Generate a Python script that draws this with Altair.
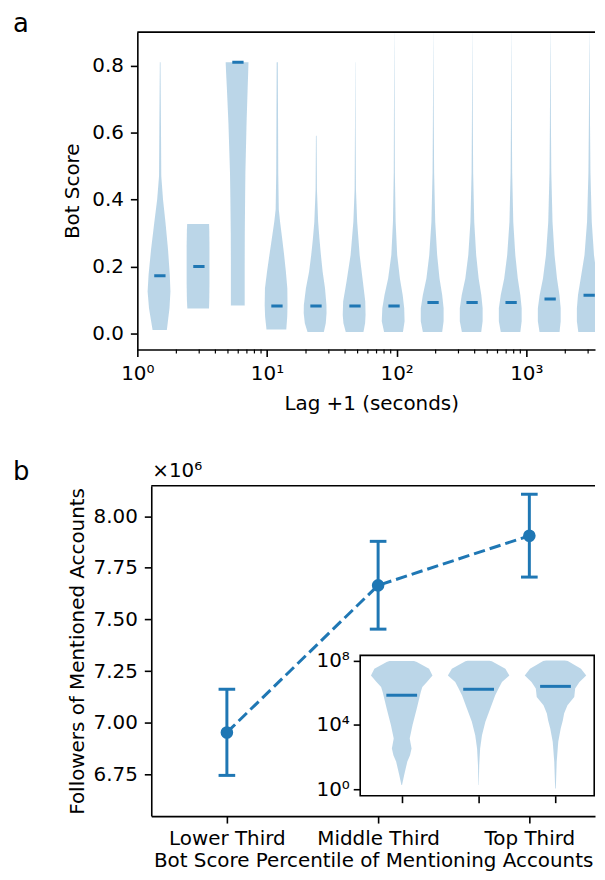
import altair as alt
import pandas as pd

FONT = "DejaVu Sans"
BLUE = "#1f77b4"

# ---------------- panel a : bot score vs lag ----------------
lag_positions = [1.5, 3, 6, 12, 24, 48, 96, 192, 384, 768, 1536, 3072]
lag_medians = [0.172, 0.200, 0.810, 0.082, 0.082, 0.082, 0.082, 0.092, 0.092, 0.092, 0.103, 0.114]

# violin profiles: bot-score levels and relative density (1 = widest point)
v01_y = [0.010, 0.075, 0.125, 0.175, 0.250, 0.330, 0.400, 0.470, 0.630, 0.810]
v01_d = [0.63, 0.90, 1.00, 0.93, 0.75, 0.50, 0.26, 0.10, 0.07, 0.03]
v02_y = [0.074, 0.100, 0.150, 0.200, 0.260, 0.310, 0.327]
v02_d = [0.95, 0.98, 1.00, 1.00, 1.00, 0.98, 0.96]
v03_y = [0.083, 0.200, 0.300, 0.400, 0.480, 0.630, 0.730, 0.780, 0.810]
v03_d = [0.61, 0.61, 0.62, 0.65, 0.68, 0.80, 0.91, 0.97, 1.00]
v04_y = [0.012, 0.050, 0.085, 0.135, 0.184, 0.234, 0.283, 0.333, 0.370, 0.480, 0.650, 0.810]
v04_d = [0.87, 0.97, 1.00, 0.98, 0.83, 0.65, 0.46, 0.26, 0.14, 0.09, 0.07, 0.05]
v05_y = [0.004, 0.030, 0.060, 0.085, 0.135, 0.184, 0.234, 0.283, 0.333, 0.430, 0.590]
v05_d = [0.72, 0.92, 1.00, 0.99, 0.84, 0.60, 0.43, 0.29, 0.17, 0.06, 0.03]
v06_y = [0.004, 0.030, 0.055, 0.095, 0.155, 0.234, 0.333, 0.430, 0.600, 0.810]
v06_d = [0.78, 0.95, 1.00, 0.97, 0.72, 0.40, 0.17, 0.06, 0.03, 0.01]
tail_y = [0.004, 0.036, 0.075, 0.115, 0.164, 0.234, 0.333, 0.480, 0.630, 0.830, 0.897]
v07_d = [0.83, 1.00, 0.96, 0.80, 0.52, 0.26, 0.12, 0.05, 0.035, 0.015, 0.005]
v08_d = [0.85, 1.00, 1.00, 0.85, 0.58, 0.35, 0.17, 0.07, 0.040, 0.015, 0.005]
v09_d = [0.85, 1.00, 1.00, 0.86, 0.59, 0.35, 0.17, 0.07, 0.040, 0.015, 0.005]
v10_d = [0.86, 1.00, 1.00, 0.86, 0.60, 0.36, 0.17, 0.07, 0.040, 0.015, 0.005]
v11_d = [0.88, 1.00, 1.00, 0.87, 0.62, 0.38, 0.19, 0.08, 0.045, 0.020, 0.006]
v12_d = [0.90, 1.00, 1.00, 0.92, 0.72, 0.42, 0.21, 0.09, 0.050, 0.020, 0.006]

lag_profiles = [(v01_y, v01_d), (v02_y, v02_d), (v03_y, v03_d), (v04_y, v04_d),
                (v05_y, v05_d), (v06_y, v06_d), (tail_y, v07_d), (tail_y, v08_d),
                (tail_y, v09_d), (tail_y, v10_d), (tail_y, v11_d), (tail_y, v12_d)]

lag_major_ticks = [1, 10, 100, 1000]
lag_major_labels = ["10⁰", "10¹", "10²", "10³"]
lag_minor_ticks = [2, 3, 4, 5, 6, 7, 8, 9, 20, 30, 40, 50, 60, 70, 80, 90,
                   200, 300, 400, 500, 600, 700, 800, 900, 2000, 3000]
score_ticks = [0.0, 0.2, 0.4, 0.6, 0.8]

# ---------------- panel b : followers vs bot score third ----------------
thirds = ["Lower Third", "Middle Third", "Top Third"]
thirds_pos = [0, 1, 2]
followers_mean = [6.953, 7.665, 7.905]   # x 10^6
followers_lo = [6.745, 7.453, 7.705]
followers_hi = [7.162, 7.878, 8.106]
followers_ticks = [6.75, 7.00, 7.25, 7.50, 7.75, 8.00]

# inset violins (log10 of followers) and relative density
in_low_log = [0.27, 0.89, 1.71, 2.12, 2.54, 3.15, 3.98, 5.01, 6.04, 6.35, 6.66, 7.07, 7.48, 7.90, 7.96]
in_low_d = [0.01, 0.08, 0.18, 0.27, 0.32, 0.26, 0.35, 0.49, 0.62, 0.67, 0.82, 1.00, 0.89, 0.49, 0.40]
in_mid_log = [0.27, 1.51, 2.54, 3.36, 4.19, 5.01, 5.84, 6.25, 6.66, 7.07, 7.48, 7.94, 7.98]
in_mid_d = [0.005, 0.02, 0.05, 0.11, 0.22, 0.38, 0.54, 0.65, 0.76, 1.00, 0.87, 0.43, 0.35]
in_top_log = [0.06, 1.71, 2.95, 3.77, 4.29, 4.70, 5.22, 5.73, 6.25, 6.66, 7.07, 7.48, 7.96, 8.00]
in_top_d = [0.01, 0.04, 0.09, 0.17, 0.24, 0.28, 0.39, 0.61, 0.64, 0.78, 1.00, 0.83, 0.40, 0.30]
in_medians_log = [5.84, 6.21, 6.39]
inset_profiles = [(in_low_log, in_low_d), (in_mid_log, in_mid_d), (in_top_log, in_top_d)]
inset_ticks = [1, 1e4, 1e8]
inset_labels = ["10⁰", "10⁴", "10⁸"]

# ---------------- styling constants ----------------
W = 460
HA = 319
HB = 332
LAG_MAX = 3391   # right edge of the log axis (130.3 px per decade)
HALF_A = 0.2     # violin half width, fraction of lag position
HALF_IN = 0.4    # inset violin half width
CAP = 0.055      # error-bar cap half width
LEFT_EDGE = -128.5
PAD0 = {"left": 0, "top": 0, "right": 0, "bottom": 0}


def label_expr(values, labels):
    expr = ""
    for v, l in zip(values, labels):
        expr += f"datum.value == {v} ? '{l}' : "
    return expr + "''"


# ---------------- tables ----------------
rows = []
for p, (ys, ds) in zip(lag_positions, lag_profiles):
    for y, d in zip(ys, ds):
        rows.append({"pos": p, "y": y, "left": p * (1 - HALF_A * d), "right": p * (1 + HALF_A * d)})
df_a = pd.DataFrame(rows)
df_a_med = pd.DataFrame({"pos": lag_positions, "med": lag_medians})
df_a_med["lo"] = df_a_med["pos"] * (1 - HALF_A / 2)
df_a_med["hi"] = df_a_med["pos"] * (1 + HALF_A / 2)
df_minor = pd.DataFrame({"v": lag_minor_ticks})
one = pd.DataFrame({"k": [0]})

df_b = pd.DataFrame({"pos": thirds_pos, "val": followers_mean, "lo": followers_lo, "hi": followers_hi})
df_caps = pd.DataFrame({"pos": thirds_pos * 2, "cap": followers_lo + followers_hi})
df_caps["c1"] = df_caps["pos"] - CAP
df_caps["c2"] = df_caps["pos"] + CAP

rows = []
for p, (ls, ds) in zip(thirds_pos, inset_profiles):
    for l, d in zip(ls, ds):
        rows.append({"pos": p, "y": 10 ** l, "left": p - HALF_IN * d, "right": p + HALF_IN * d})
df_in = pd.DataFrame(rows)
df_in_med = pd.DataFrame({"pos": thirds_pos, "med": [10 ** m for m in in_medians_log]})
df_in_med["lo"] = df_in_med["pos"] - HALF_IN / 2
df_in_med["hi"] = df_in_med["pos"] + HALF_IN / 2

# ---------------- panel a ----------------
xs_a = alt.Scale(type="log", domain=[1, LAG_MAX])
ys_a = alt.Scale(domain=[-0.048, 0.9])
ax_a_x = alt.Axis(values=lag_major_ticks, labelExpr=label_expr(lag_major_ticks, lag_major_labels),
                  title="Lag +1 (seconds)", titlePadding=10, titleX=235,
                  labelFlush=False, labelOverlap=False)
ax_a_y = alt.Axis(values=score_ticks, format=".1f", title="Bot Score", titlePadding=9,
                  labelOverlap=False)

violins_a = alt.Chart(df_a).mark_area(orient="horizontal", color=BLUE, fillOpacity=0.3, clip=True).encode(
    y=alt.Y("y:Q", scale=ys_a, axis=ax_a_y),
    x=alt.X("left:Q", scale=xs_a, axis=ax_a_x),
    x2="right:Q",
    detail="pos:N",
)
med_a = alt.Chart(df_a_med).mark_rule(color=BLUE, strokeWidth=3, clip=True).encode(
    y=alt.Y("med:Q", scale=ys_a, axis=ax_a_y),
    x=alt.X("lo:Q", scale=xs_a, axis=ax_a_x),
    x2="hi:Q",
)
minor_a = alt.Chart(df_minor).transform_filter(f"datum.v <= {LAG_MAX}").mark_rule(
    color="black", strokeWidth=1.2).encode(
    x=alt.X("v:Q", scale=xs_a, axis=ax_a_x),
    y=alt.value(HA),
    y2=alt.value(HA + 4),
)
top_a = alt.Chart(one).mark_rule(color="black", strokeWidth=1.6).encode(
    x=alt.value(0), x2=alt.value(W), y=alt.value(0))
edge_a = alt.Chart(one).mark_rule(color="white", strokeWidth=1).encode(
    x=alt.value(LEFT_EDGE), x2=alt.value(LEFT_EDGE), y=alt.value(-20.5), y2=alt.value(HA + 69.5))
letter_a = alt.Chart(one).mark_text(text="a", font=FONT, fontSize=26, align="left",
                                    baseline="alphabetic", color="black").encode(
    x=alt.value(-125), y=alt.value(-0.5))

panel_a = alt.layer(violins_a, med_a, minor_a, top_a, edge_a, letter_a).properties(width=W, height=HA)

# ---------------- panel b ----------------
xs_b = alt.Scale(domain=[-0.5, -0.5 + (W - 14) / 152], range=[14, W])
ys_b = alt.Scale(domain=[6.548, 8.147])
ax_b_x = alt.Axis(values=thirds_pos, labelExpr=label_expr(thirds_pos, thirds),
                  title="Bot Score Percentile of Mentioning Accounts", titlePadding=2,
                  labelPadding=6, labelFlush=False, labelOverlap=False)
ax_b_y = alt.Axis(values=followers_ticks, format=".2f", title="Followers of Mentioned Accounts",
                  orient="left", offset=-14, titlePadding=6, labelOverlap=False)

xb = alt.X("pos:Q", scale=xs_b, axis=ax_b_x)
line_b = alt.Chart(df_b).mark_line(color=BLUE, strokeWidth=3, strokeDash=[11.5, 5]).encode(
    x=xb, y=alt.Y("val:Q", scale=ys_b, axis=ax_b_y))
err_b = alt.Chart(df_b).mark_rule(color=BLUE, strokeWidth=3).encode(
    x=xb, y=alt.Y("lo:Q", scale=ys_b, axis=ax_b_y), y2="hi:Q")
caps_b = alt.Chart(df_caps).mark_rule(color=BLUE, strokeWidth=3).encode(
    x=alt.X("c1:Q", scale=xs_b, axis=ax_b_x), x2="c2:Q",
    y=alt.Y("cap:Q", scale=ys_b, axis=ax_b_y))
pts_b = alt.Chart(df_b).mark_point(filled=True, color=BLUE, size=160, opacity=1).encode(
    x=xb, y=alt.Y("val:Q", scale=ys_b, axis=ax_b_y))
top_b = alt.Chart(one).mark_rule(color="black", strokeWidth=1.6).encode(
    x=alt.value(14), x2=alt.value(W), y=alt.value(0))
edge_b = alt.Chart(one).mark_rule(color="white", strokeWidth=1).encode(
    x=alt.value(LEFT_EDGE), x2=alt.value(LEFT_EDGE), y=alt.value(-29.5), y2=alt.value(0))
letter_b = alt.Chart(one).mark_text(text="b", font=FONT, fontSize=26, align="left",
                                    baseline="alphabetic", color="black").encode(
    x=alt.value(-125), y=alt.value(-6))
offset_txt = alt.Chart(one).mark_text(text="×10⁶", font=FONT, fontSize=20, align="left",
                                      baseline="alphabetic", color="black").encode(
    x=alt.value(15), y=alt.value(-8.5))

main_b = alt.layer(line_b, err_b, caps_b, pts_b, top_b, edge_b, letter_b, offset_txt)

# inset
xs_in = alt.Scale(domain=[-0.54, 2.54], range=[224, 462])
ys_in = alt.Scale(type="log", domain=[0.408, 2.04e8], range=[311.5, 170.5])
ax_in_x = alt.Axis(orient="bottom", offset=-(HB - 311.5), values=thirds_pos, labels=False,
                   title=None, domain=False)
ax_in_y = alt.Axis(orient="left", offset=-224, values=inset_ticks,
                   labelExpr=label_expr(inset_ticks, inset_labels), title=None,
                   labelPadding=4, labelOverlap=False, domain=False)

bg_in = alt.Chart(one).mark_rect(fill="white", stroke="black", strokeWidth=1.6).encode(
    x=alt.value(224), x2=alt.value(W - 0.8), y=alt.value(170.5), y2=alt.value(311.5))
viol_in = alt.Chart(df_in).mark_area(orient="horizontal", color=BLUE, fillOpacity=0.3).encode(
    y=alt.Y("y:Q", scale=ys_in, axis=ax_in_y),
    x=alt.X("left:Q", scale=xs_in, axis=ax_in_x),
    x2="right:Q",
    detail="pos:N",
)
med_in = alt.Chart(df_in_med).mark_rule(color=BLUE, strokeWidth=3).encode(
    y=alt.Y("med:Q", scale=ys_in, axis=ax_in_y),
    x=alt.X("lo:Q", scale=xs_in, axis=ax_in_x),
    x2="hi:Q",
)
inset_b = alt.layer(bg_in, viol_in, med_in)

panel_b = alt.layer(main_b, inset_b).resolve_scale(x="independent", y="independent").properties(
    width=W, height=HB)

chart = alt.vconcat(panel_a, panel_b, spacing=35).properties(padding=PAD0).configure(
    font=FONT, padding=PAD0
).configure_axis(
    labelFont=FONT, titleFont=FONT, labelFontSize=20, titleFontSize=20,
    titleFontWeight="normal", labelColor="black", titleColor="black",
    tickColor="black", domainColor="black", tickWidth=1.6, domainWidth=1.6,
    tickSize=7, labelPadding=7, grid=False,
).configure_view(stroke="transparent")

chart.save("out.html", embed_options={"renderer": "svg", "actions": False})
